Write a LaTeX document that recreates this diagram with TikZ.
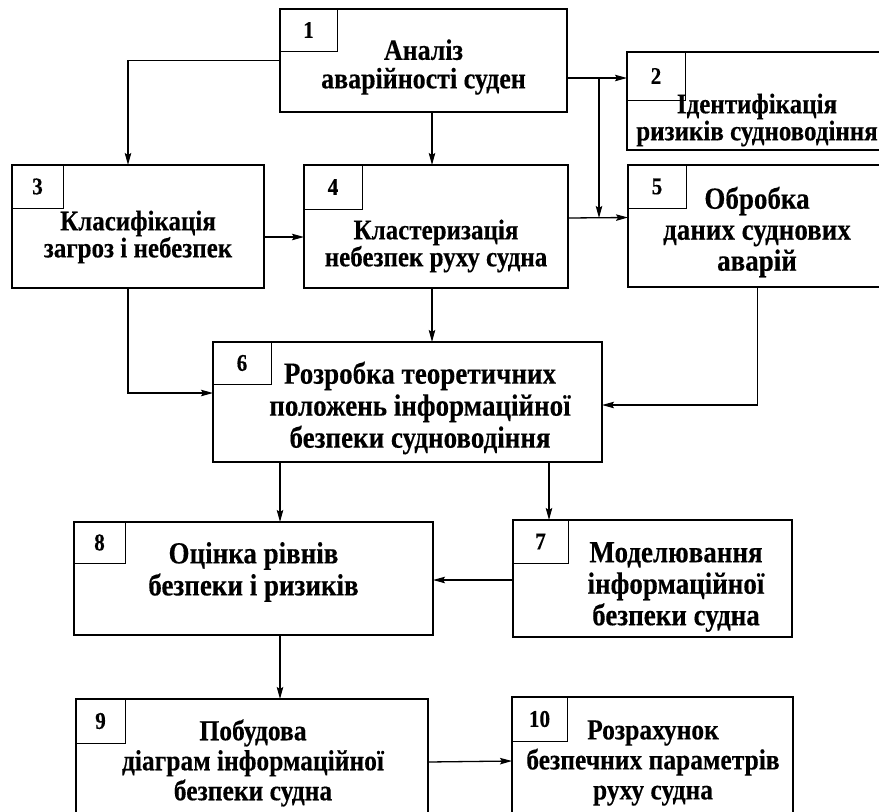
\documentclass[tikz,border=0pt]{standalone}
\usepackage{fontspec}
\setmainfont{Liberation Serif}
\newfontfamily\tovst{Liberation Serif Bold}[FakeStretch=0.88, FakeBold=0.3]
\usetikzlibrary{arrows.meta, calc, positioning}
\tikzset{
  blok/.style={draw, line width=2.2pt, inner sep=0pt, outer sep=0pt},
  nomer/.style={draw, line width=1pt, anchor=north west, inner sep=0pt, outer sep=0pt, font=\tovst\fontsize{24}{24}\selectfont},
  napys/.style={align=center, inner sep=0pt},
  strilka/.style={-{Stealth[length=12pt, width=6.5pt, inset=2pt]}, line width=1.3pt},
}
\newcommand{\shr}[2]{\tovst\fontsize{#1}{#2}\selectfont}

\begin{document}
\begin{tikzpicture}[x=1pt, y=-1pt]
    \useasboundingbox (0,0) rectangle (879,812);
    \clip (0,0) rectangle (879,812);

    % blocks
    \node[blok, minimum width=287, minimum height=103] (b1) at (423.5,60.5) {};
    \node[blok, minimum width=260, minimum height=98] (b2) at (757,101) {};
    \node[blok, minimum width=252, minimum height=123] (b3) at (138,226.5) {};
    \node[blok, minimum width=264, minimum height=123] (b4) at (436,226.5) {};
    \node[blok, minimum width=259, minimum height=122] (b5) at (757.5,226) {};
    \node[blok, minimum width=389, minimum height=120] (b6) at (407.5,402) {};
    \node[blok, minimum width=279, minimum height=117] (b7) at (652.5,578.5) {};
    \node[blok, minimum width=359, minimum height=113] (b8) at (253.5,578.5) {};
    \node[blok, minimum width=352, minimum height=126] (b9) at (252,762) {};
    \node[blok, minimum width=281, minimum height=128] (b10) at (652.5,761) {};

    % numbers
    \node[nomer, minimum width=57, minimum height=42] (n1) at (b1.north west) {1};
    \node[nomer, minimum width=58, minimum height=48] (n2) at (b2.north west) {2};
    \node[nomer, minimum width=51, minimum height=43] (n3) at (b3.north west) {3};
    \node[nomer, minimum width=58, minimum height=44] (n4) at (b4.north west) {4};
    \node[nomer, minimum width=58, minimum height=43] (n5) at (b5.north west) {5};
    \node[nomer, minimum width=58, minimum height=42] (n6) at (b6.north west) {6};
    \node[nomer, minimum width=55, minimum height=43] (n7) at (b7.north west) {7};
    \node[nomer, minimum width=51, minimum height=41] (n8) at (b8.north west) {8};
    \node[nomer, minimum width=49, minimum height=44] (n9) at (b9.north west) {9};
    \node[nomer, minimum width=55, minimum height=44] (n10) at (b10.north west) {10};

    % texts
    \node[napys, font=\shr{29.5}{28.5}] (t1) at (423.5,67) {Аналіз\\аварійності суден};
    \node[napys, font=\shr{28.4}{27}] (t2) at (757,120) {Ідентифікація\\ризиків судноводіння};
    \node[napys, font=\shr{28.4}{27}] (t3) at (138,237) {Класифікація\\загроз і небезпек};
    \node[napys, font=\shr{28.4}{27}] (t4) at (436,246) {Кластеризація\\небезпек руху судна};
    \node[napys, font=\shr{30.7}{31}] (t5) at (757,232) {Обробка\\даних суднових\\аварій};
    \node[napys, font=\shr{30.7}{32}] (t6) at (420,408) {Розробка теоретичних\\положень інформаційної\\безпеки судноводіння};
    \node[napys, font=\shr{30.7}{31.5}] (t7) at (676,587) {Моделювання\\інформаційної\\безпеки судна};
    \node[napys, font=\shr{30.7}{32}] (t8) at (253.5,572) {Оцінка рівнів\\безпеки і ризиків};
    \node[napys, font=\shr{29}{30}] (t9) at (253,763) {Побудова\\діаграм інформаційної\\безпеки судна};
    \node[napys, font=\shr{29}{30}] (t10) at (653,763) {Розрахунок\\безпечних параметрів\\руху судна};

    % connectors
    \coordinate (x128) at (128,0);
    \coordinate (x280) at (280,0);
    \coordinate (x432) at (432,0);
    \coordinate (x549) at (549,0);
    \coordinate (v12) at (599,78);

    \draw[strilka] (b1.west) -| (b3.north -| x128);
    \draw[strilka] (b1.south -| x432) -- (b4.north -| x432);
    \draw[strilka] (b1.east |- v12) -- (b2.west |- v12);
    \draw[strilka] (v12) -- ++(0,140);
    \draw[strilka] ([yshift=-10.5pt]b3.east) -- ([yshift=-10.5pt]b4.west);
    \draw[strilka] ([yshift=8.5pt]b4.east) -- ([yshift=8.5pt]b5.west);
    \draw[strilka] (b4.south -| x432) -- (b6.north -| x432);
    \draw[strilka] (b3.south -| x128) |- ([yshift=9pt]b6.west);
    \draw[strilka] (b5.south) |- ([yshift=-3pt]b6.east);
    \draw[strilka] (b6.south -| x280) -- (b8.north -| x280);
    \draw[strilka] (b6.south -| x549) -- (b7.north -| x549);
    \draw[strilka] ([yshift=-1.5pt]b7.west) -- ([yshift=-1.5pt]b8.east);
    \draw[strilka] (b8.south -| x280) -- (b9.north -| x280);
    \draw[strilka] (b9.east) -- (b10.west);
\end{tikzpicture}
\end{document}
